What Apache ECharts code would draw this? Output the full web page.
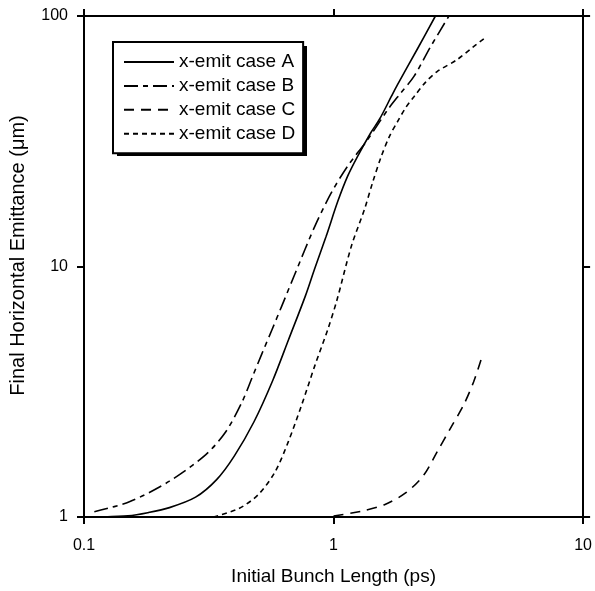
<!DOCTYPE html>
<html>
<head>
<meta charset="utf-8">
<script src="https://cdn.jsdelivr.net/npm/echarts@6/dist/echarts.min.js"></script>
<style>
html,body{margin:0;padding:0;background:#fff;}
#chart{width:595px;height:591px;}
</style>
</head>
<body>
<div id="chart"></div>
<script>
// ---- data ----
const seriesNames = ['x-emit case A', 'x-emit case B', 'x-emit case C', 'x-emit case D'];

const xA = [0.12, 0.15, 0.18, 0.22, 0.28, 0.34, 0.40, 0.48, 0.57, 0.66, 0.77, 0.84, 0.934, 1.04, 1.14, 1.25, 1.41, 1.53, 1.70, 1.80, 2.17, 2.56];
const yA = [1.00, 1.01, 1.04, 1.09, 1.20, 1.41, 1.75, 2.40, 3.50, 5.10, 7.60, 9.80, 13.2, 18.2, 23.0, 27.6, 34.2, 38.8, 47.5, 53.0, 74.0, 100];

const xB = [0.11, 0.152, 0.22, 0.307, 0.37, 0.43, 0.471, 0.516, 0.566, 0.62, 0.70, 0.842, 0.98, 1.14, 1.37, 1.65, 1.86, 2.10, 2.45, 2.90];
const yB = [1.05, 1.15, 1.39, 1.77, 2.19, 2.88, 3.59, 4.48, 5.58, 6.95, 9.33, 14.5, 19.7, 25.2, 32.1, 42.3, 49.3, 57.4, 75.5, 100];

const xC = [1.00, 1.29, 1.60, 1.95, 2.30, 2.60, 2.94, 3.32, 3.64, 3.93];
const yC = [1.01, 1.054, 1.12, 1.25, 1.47, 1.82, 2.26, 2.80, 3.46, 4.35];

const xD = [0.33, 0.417, 0.50, 0.584, 0.659, 0.745, 0.842, 0.95, 1.03, 1.18, 1.33, 1.435, 1.549, 1.673, 1.805, 1.947, 2.10, 2.33, 2.60, 3.13, 3.64, 4.00];
const yD = [1.00, 1.08, 1.23, 1.52, 2.00, 2.80, 4.03, 5.64, 7.30, 12.1, 16.9, 21.7, 27.3, 33.0, 37.9, 43.1, 47.6, 54.2, 60.0, 67.0, 75.5, 81.0];

const xTicks = [0.1, 1, 10];
const yTicks = [1, 10, 100];

// ---- build chart ----
const pairs = (xs, ys) => xs.map((x, i) => [x, ys[i]]);
const FONT = 'Liberation Sans';
const dashes = ['solid', [14, 5, 5, 5], [10, 7], [5, 4]];
const allX = [xA, xB, xC, xD];
const allY = [yA, yB, yC, yD];

const axisLine = { show: true, onZero: false, lineStyle: { color: '#000', width: 2 } };
const axisTick = { show: true, inside: false, length: 7, lineStyle: { color: '#000', width: 2 } };

const chart = echarts.init(document.getElementById('chart'), null, { renderer: 'canvas' });
chart.setOption({
  animation: false,
  backgroundColor: '#fff',
  grid: { left: 84, right: 8, top: 16, bottom: 72, containLabel: false },
  graphic: [{
    type: 'rect', z: 1, silent: true,
    shape: { x: 117, y: 46, width: 190, height: 110 },
    style: { fill: '#000' }
  }],
  legend: {
    data: seriesNames,
    orient: 'vertical',
    left: 113,
    top: 42,
    z: 5,
    padding: [10.5, 8, 10, 10],
    itemWidth: 50,
    itemHeight: 14,
    itemGap: 4.9,
    backgroundColor: '#fff',
    borderColor: '#000',
    borderWidth: 2,
    itemStyle: { opacity: 0, borderWidth: 0 },
    textStyle: { fontFamily: FONT, fontSize: 19, color: '#000', lineHeight: 18 }
  },
  xAxis: [
    {
      type: 'log', logBase: 10, min: xTicks[0], max: xTicks[xTicks.length - 1],
      position: 'bottom',
      name: 'Initial Bunch Length (ps)', nameLocation: 'middle', nameGap: 50,
      nameTextStyle: { fontFamily: FONT, fontSize: 19, color: '#000' },
      axisLine, axisTick,
      axisLabel: { show: true, margin: 21, fontFamily: FONT, fontSize: 16, color: '#000', showMinLabel: true, showMaxLabel: true },
      splitLine: { show: false }, minorTick: { show: false }
    },
    {
      type: 'log', logBase: 10, min: xTicks[0], max: xTicks[xTicks.length - 1],
      position: 'top', axisLine, axisTick,
      axisLabel: { show: false }, splitLine: { show: false }
    }
  ],
  yAxis: [
    {
      type: 'log', logBase: 10, min: yTicks[0], max: yTicks[yTicks.length - 1],
      position: 'left',
      name: 'Final Horizontal Emittance (μm)', nameLocation: 'middle', nameGap: 56,
      nameTextStyle: { fontFamily: FONT, fontSize: 20, color: '#000', padding: [0, 0, 0, 22] },
      axisLine, axisTick,
      axisLabel: { show: true, margin: 16, fontFamily: FONT, fontSize: 16, color: '#000', showMinLabel: true, showMaxLabel: true },
      splitLine: { show: false }, minorTick: { show: false }
    },
    {
      type: 'log', logBase: 10, min: yTicks[0], max: yTicks[yTicks.length - 1],
      position: 'right', axisLine, axisTick,
      axisLabel: { show: false }, splitLine: { show: false }
    }
  ],
  series: seriesNames.map((name, i) => ({
    name,
    type: 'line',
    xAxisIndex: 0,
    yAxisIndex: 0,
    data: pairs(allX[i], allY[i]),
    symbol: 'none',
    smooth: 0.3,
    clip: true,
    lineStyle: { color: '#000', width: 1.6, type: dashes[i] },
    itemStyle: { color: '#000' }
  }))
});
</script>
</body>
</html>
